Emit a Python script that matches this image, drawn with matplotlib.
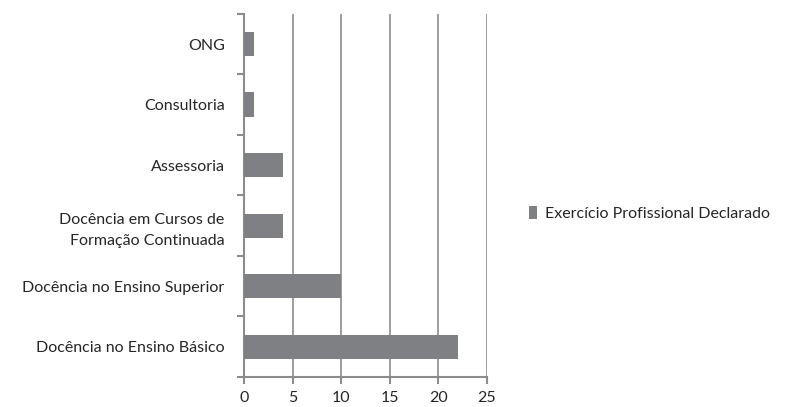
import matplotlib.pyplot as plt
import numpy as np

categorias = [
    "Docência no Ensino Básico",
    "Docência no Ensino Superior",
    "Docência em Cursos de\nFormação Continuada",
    "Assessoria",
    "Consultoria",
    "ONG",
]
valores = [22, 10, 4, 4, 1, 1]
serie = "Exercício Profissional Declarado"
xticks = [0, 5, 10, 15, 20, 25]

plt.rcParams["font.family"] = ["Lato", "DejaVu Sans"]
cinza = "#7f8084"
linha = "#8c8c8c"
texto = "#262626"

fig = plt.figure(figsize=(7.85, 4.07), dpi=100)
ax = fig.add_axes([0.311, 0.074, 0.309, 0.892])

y = np.arange(len(categorias))
ax.barh(y, valores, height=0.4, color=cinza, label=serie, zorder=3)

ax.set_xlim(0, 25)
ax.set_ylim(-0.5, len(categorias) - 0.5)
ax.set_xticks(xticks)
ax.set_xticklabels([str(t) for t in xticks], fontsize=11.5, color=texto)
ax.set_yticks(y)
ax.set_yticklabels(categorias, fontsize=11.5, color=texto, linespacing=1.6)
ax.set_yticks(np.arange(len(categorias) + 1) - 0.5, minor=True)

ax.tick_params(axis="y", which="major", length=0, pad=14)
ax.tick_params(axis="y", which="minor", length=5, width=1.5, color=linha)
ax.tick_params(axis="x", length=5, width=1.5, color=linha, pad=5)

ax.grid(axis="x", color=linha, linewidth=1.2, zorder=0)
for s in ["top", "right"]:
    ax.spines[s].set_visible(False)
for s in ["left", "bottom"]:
    ax.spines[s].set_color(linha)
    ax.spines[s].set_linewidth(1.5)

leg = fig.legend(loc="center left", bbox_to_anchor=(0.655, 0.475), frameon=False,
                 fontsize=11.5, handlelength=0.5, handleheight=0.9, handletextpad=0.5)
for t in leg.get_texts():
    t.set_color(texto)

fig.savefig("out.png", dpi=100)
